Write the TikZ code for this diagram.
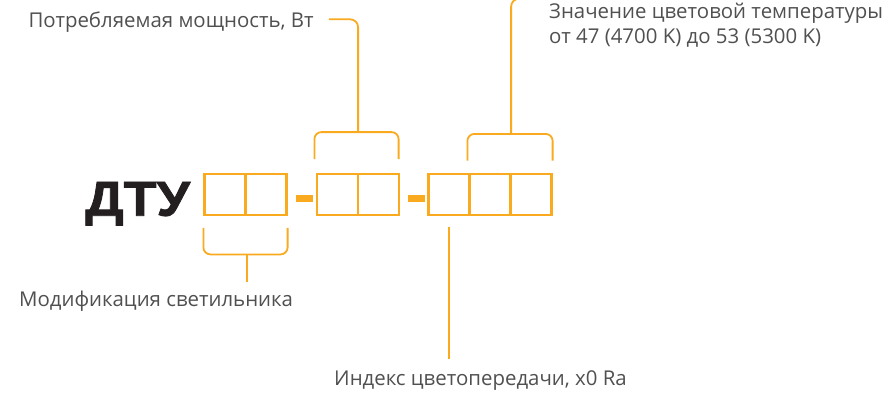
\documentclass[tikz,border=0pt]{standalone}
\usepackage{graphicx}
\usepackage{fontspec}
\setmainfont{Open Sans}
\newfontfamily\heavyfont{Liberation Sans}[BoldFeatures={FakeBold=1.5}]
\usetikzlibrary{calc}
\definecolor{orng}{RGB}{250,170,30}
\definecolor{txtc}{RGB}{80,80,80}
\definecolor{dtuc}{RGB}{35,31,32}
\begin{document}
\begin{tikzpicture}[x=1pt,y=-1pt,
  cell/.style={draw=orng,line width=2.2pt,minimum width=41pt,minimum height=41.6pt,inner sep=0pt},
  dashbar/.style={fill=orng,draw=none,minimum width=17pt,minimum height=7pt,inner sep=0pt},
  conn/.style={draw=orng,line width=1.8pt,rounded corners=7pt},
  lbl/.style={anchor=base west,inner sep=0pt,text=txtc,font=\fontsize{20.4}{25}\selectfont,align=left}]
\useasboundingbox (0,0) rectangle (890,394);

% code title
\node[anchor=base west,inner sep=0pt,text=dtuc] (dtu) at (85,215.7)
  {\heavyfont\bfseries\fontsize{49}{49}\selectfont\scalebox{1.1}[1]{ДТУ}};

% cells
\node[cell] (c11) at (225,194.5) {};
\node[cell] (c12) at (266,194.5) {};
\node[dashbar] (d1) at (304.5,198.5) {};
\node[cell] (c21) at (337.5,194.5) {};
\node[cell] (c22) at (378.5,194.5) {};
\node[dashbar] (d2) at (416.5,198.5) {};
\node[cell] (c31) at (449,194.5) {};
\node[cell] (c32) at (490,194.5) {};
\node[cell] (c33) at (531,194.5) {};

% labels
\node[lbl] (pw) at (28.3,27.3) {Потребляемая мощность, Вт};
\node[lbl] (ct) at (549,43.3) {Значение цветовой температуры\\от 47 (4700 K) до 53 (5300 K)};
\node[lbl] (mod) at (19,306.7) {Модификация светильника};
\node[lbl] (idx) at (334,385.7) {Индекс цветопередачи, x0 Ra};

% lower bracket: modification
\draw[conn] ($(c11.south west)+(0,11.5)$) -- ($(c11.south west)+(0,38)$)
  -- ($(c12.south east)+(0,38)$) -- ($(c12.south east)+(0,11.5)$);
\draw[conn] ($(c11.south east)+(0,38)$) -- ($(c11.south east)+(0,65.5)$);

% upper bracket: power
\draw[conn] ($(c21.north west)+(-1.5,-13.5)$) -- ($(c21.north west)+(-1.5,-40.5)$)
  -- ($(c22.north east)+(-1.5,-40.5)$) -- ($(c22.north east)+(-1.5,-13.5)$);
\draw[conn,rounded corners=8pt] ($(c21.north east)+(-1,-40.5)$) |- ($(pw.base east)+(15,-8)$);

% upper bracket: colour temperature
\draw[conn] ($(c32.north west)+(-1,-12)$) -- ($(c32.north west)+(-1,-38.7)$)
  -- ($(c33.north east)+(0,-38.7)$) -- ($(c33.north east)+(0,-12)$);
\draw[conn,rounded corners=8pt] ($(c32.north east)+(-0.5,-38.7)$) |- ($(ct.north west)+(-11.5,-4)$);

% index stem
\draw[conn] ($(c31.south)+(0,11)$) -- ($(c31.south)+(0,142.5)$);
\end{tikzpicture}
\end{document}
